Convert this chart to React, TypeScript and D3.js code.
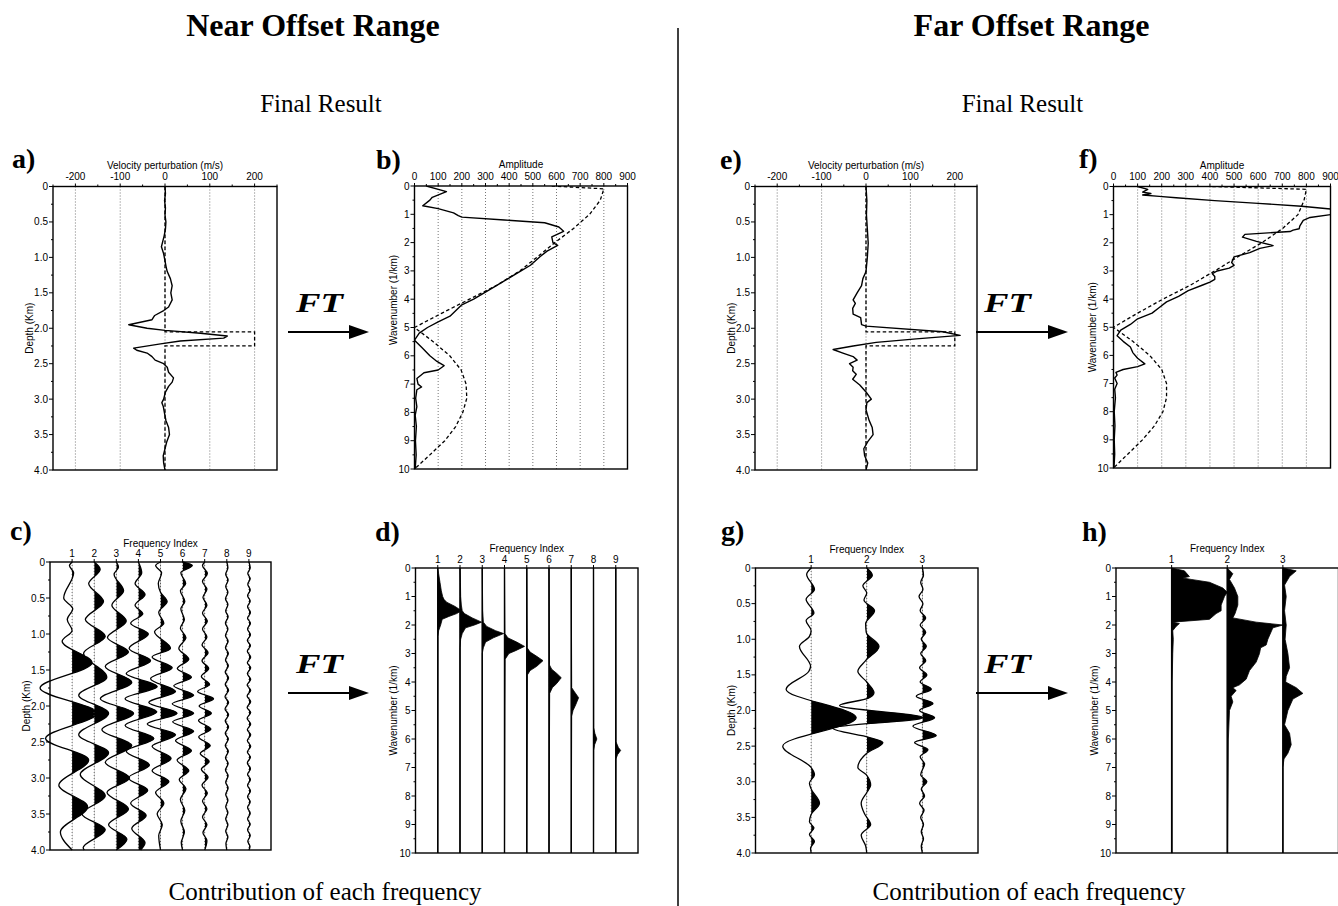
import React from "react";
import * as d3 from "d3";

type Pt = [number, number];
type Box = { x: number; y: number; w: number; h: number };

// ---------- tick values and labels ----------
const velocityTicks = [-200, -100, 0, 100, 200];
const velocityMinor = [-250, -150, -50, 50, 150, 250];
const amplitudeTicks = [0, 100, 200, 300, 400, 500, 600, 700, 800, 900];
const amplitudeMinor = [50, 150, 250, 350, 450, 550, 650, 750, 850];
const depthTicks = [0, 0.5, 1, 1.5, 2, 2.5, 3, 3.5, 4];
const depthTickLabels = ["0", "0.5", "1.0", "1.5", "2.0", "2.5", "3.0", "3.5", "4.0"];
const depthMinor = [0.25, 0.75, 1.25, 1.75, 2.25, 2.75, 3.25, 3.75];
const wavenumberTicks = [0, 1, 2, 3, 4, 5, 6, 7, 8, 9, 10];
const wavenumberMinor = [0.5, 1.5, 2.5, 3.5, 4.5, 5.5, 6.5, 7.5, 8.5, 9.5];
const nearIndex = [1, 2, 3, 4, 5, 6, 7, 8, 9];
const farIndex = [1, 2, 3];

// ---------- velocity profiles [depth km, perturbation m/s] ----------
const trueModel: Pt[] = [[0, 0], [2.05, 0], [2.05, 200], [2.25, 200], [2.25, 0], [4, 0]];

const nearInverted: Pt[] = [
  [0, 0], [0.1, 1], [0.2, -1], [0.3, 1], [0.4, 0], [0.5, 2], [0.6, 1], [0.7, -2], [0.75, -4],
  [0.85, -8], [0.95, -3], [1.05, 0], [1.15, 3], [1.2, 5], [1.3, 12], [1.4, 16], [1.5, 13],
  [1.6, 16], [1.7, 8], [1.75, -3], [1.82, -23], [1.88, -29], [1.95, -81], [2.0, -40], [2.03, 0],
  [2.07, 79], [2.11, 139], [2.14, 131], [2.18, 34], [2.22, -10], [2.28, -70], [2.31, -63],
  [2.35, -40], [2.4, -29], [2.45, -22], [2.5, -3], [2.55, 5], [2.62, 8], [2.7, 19], [2.76, 16],
  [2.82, 8], [2.9, 1], [3.0, -3], [3.05, -7], [3.1, -4], [3.2, -1], [3.3, 2], [3.4, 8], [3.5, 10],
  [3.6, 4], [3.7, 0], [3.8, -4], [3.9, -3], [4.0, 0],
];

const farInverted: Pt[] = [
  [0, 0], [0.2, 2], [0.4, 1], [0.6, 3], [0.8, 5], [1.0, 3], [1.2, 0], [1.3, -7], [1.4, -10],
  [1.5, -20], [1.6, -29], [1.65, -24], [1.72, -30], [1.8, -29], [1.85, -12], [1.95, -10],
  [1.97, 0], [2.05, 173], [2.1, 212], [2.15, 113], [2.2, 23], [2.25, -29], [2.3, -74],
  [2.35, -52], [2.4, -29], [2.45, -20], [2.5, -37], [2.55, -29], [2.6, -30], [2.65, -22],
  [2.72, -30], [2.8, -14], [2.9, 0], [3.0, 12], [3.05, 2], [3.15, 0], [3.3, 7], [3.4, 14],
  [3.5, 16], [3.6, 4], [3.7, -5], [3.8, -3], [3.9, 4], [4.0, 0],
];

// ---------- amplitude spectra [wavenumber 1/km, amplitude] ----------
const nearModelSpectrum: Pt[] = [
  [0, 580], [0.1, 800], [0.5, 785], [1.0, 740], [1.5, 672], [2.0, 593], [2.5, 520], [3.0, 445],
  [3.5, 350], [4.0, 232], [4.5, 114], [5.0, 0], [5.5, 79], [6.0, 149], [6.5, 197], [7.0, 218],
  [7.5, 221], [8.0, 204], [8.5, 174], [9.0, 128], [9.5, 65], [10, 0],
];

const nearSpectrum: Pt[] = [
  [0, 50], [0.2, 135], [0.4, 75], [0.5, 65], [0.7, 35], [0.8, 100], [0.95, 165], [1.05, 185],
  [1.1, 200], [1.2, 380], [1.3, 550], [1.45, 610], [1.6, 630], [1.8, 580], [2.0, 585],
  [2.1, 605], [2.3, 560], [2.5, 530], [2.8, 490], [3.0, 450], [3.3, 390], [3.6, 330], [4.0, 250],
  [4.2, 200], [4.4, 175], [4.6, 150], [4.8, 100], [5.0, 55], [5.2, 20], [5.45, 0], [5.7, 30],
  [6.0, 65], [6.2, 95], [6.35, 125], [6.5, 100], [6.6, 40], [6.8, 10], [7.0, 15], [7.1, 30],
  [7.2, 10], [7.5, 5], [7.8, 10], [8.1, 3], [8.5, 8], [9.0, 4], [9.5, 7], [10, 3],
];

const farModelSpectrum: Pt[] = [
  [0, 410], [0.1, 800], [0.5, 790], [1.0, 765], [1.5, 700], [2.0, 615], [2.5, 515], [3.0, 420],
  [3.5, 320], [4.0, 205], [4.5, 100], [5.0, 0], [5.5, 80], [6.0, 150], [6.5, 200], [7.0, 220],
  [7.5, 220], [8.0, 205], [8.5, 170], [9.0, 120], [9.5, 60], [10, 0],
];

const farSpectrum: Pt[] = [
  [0, 100], [0.1, 142], [0.2, 121], [0.25, 155], [0.3, 121], [0.35, 190], [0.4, 260], [0.5, 420],
  [0.6, 600], [0.7, 780], [0.8, 900], [0.9, 980], [1.0, 900], [1.1, 815], [1.2, 787], [1.4, 773],
  [1.5, 770], [1.55, 745], [1.6, 732], [1.7, 545], [1.8, 535], [1.95, 593], [2.1, 662],
  [2.2, 607], [2.35, 565], [2.5, 500], [2.7, 490], [2.8, 500], [2.9, 480], [3.0, 430], [3.1, 410],
  [3.2, 420], [3.3, 420], [3.4, 400], [3.5, 370], [3.7, 310], [3.9, 270], [4.1, 220], [4.3, 190],
  [4.5, 160], [4.7, 100], [4.9, 70], [5.1, 30], [5.3, 15], [5.5, 40], [5.7, 70], [5.9, 80],
  [6.1, 100], [6.3, 130], [6.4, 100], [6.5, 40], [6.6, 10], [6.7, 15], [6.8, 5], [7.0, 15],
  [7.2, 5], [7.5, 8], [8.0, 3], [8.5, 6], [9.0, 3], [9.5, 5], [10, 2],
];

// ---------- near offset: depth contribution of each frequency [depth km, trace amplitude] ----------
const nearWiggle1: Pt[] = [[0, 0], [0.05, -0.12], [0.15, 0.07], [0.5, -0.38], [0.65, 0.03], [0.8, -0.22], [0.95, 0], [1.1, -0.45], [1.4, 0.9], [1.75, -1.45], [2.1, 1.13], [2.45, -1.2], [2.75, 0.75], [3.1, -0.6], [3.4, 0.7], [3.75, -0.53], [4, 0]];
const nearWiggle2: Pt[] = [[0, 0], [0.1, 0.27], [0.3, -0.25], [0.55, 0.42], [0.8, -0.4], [1.03, 0.5], [1.27, -0.48], [1.6, 0.57], [1.85, -0.7], [2.1, 0.65], [2.4, -0.7], [2.65, 0.65], [2.95, -0.63], [3.25, 0.5], [3.5, -0.55], [3.72, 0.5], [3.97, -0.5], [4, -0.45]];
const nearWiggle3: Pt[] = [[0, 0], [0.07, 0.1], [0.17, -0.1], [0.4, 0.33], [0.6, -0.2], [0.82, 0.45], [1.05, -0.4], [1.25, 0.55], [1.45, -0.5], [1.67, 0.7], [1.9, -0.72], [2.1, 0.78], [2.33, -0.65], [2.55, 0.7], [2.78, -0.5], [3.0, 0.6], [3.2, -0.42], [3.43, 0.55], [3.65, -0.35], [3.85, 0.48], [4, 0]];
const nearWiggle4: Pt[] = [[0, 0], [0.15, 0.15], [0.3, -0.15], [0.45, 0.3], [0.6, -0.15], [0.72, 0.2], [0.85, -0.35], [1.0, 0.45], [1.2, -0.42], [1.37, 0.55], [1.55, -0.55], [1.73, 0.85], [1.9, -0.6], [2.08, 0.83], [2.27, -0.6], [2.45, 0.7], [2.63, -0.55], [2.82, 0.5], [3.0, -0.45], [3.17, 0.42], [3.35, -0.35], [3.52, 0.35], [3.7, -0.3], [3.9, 0.3], [4, 0.1]];
const nearWiggle5: Pt[] = [[0, 0], [0.05, -0.22], [0.15, 0.05], [0.3, -0.1], [0.42, 0.0], [0.55, 0.3], [0.7, -0.08], [0.85, 0.15], [0.97, -0.27], [1.2, 0.45], [1.32, -0.38], [1.47, 0.53], [1.62, -0.45], [1.8, 0.68], [1.95, -0.53], [2.1, 0.75], [2.25, -0.6], [2.4, 0.68], [2.56, -0.38], [2.73, 0.48], [2.9, -0.38], [3.05, 0.38], [3.2, -0.22], [3.35, 0.15], [3.5, -0.15], [3.65, 0.08], [3.8, -0.08], [4, 0]];
const nearWiggle6: Pt[] = [[0, 0], [0.05, 0.44], [0.15, -0.08], [0.3, 0.14], [0.4, -0.1], [0.55, 0.1], [0.65, -0.08], [0.8, 0.08], [0.92, -0.1], [1.05, 0.15], [1.2, -0.17], [1.35, 0.28], [1.48, -0.24], [1.6, 0.4], [1.72, -0.4], [1.85, 0.5], [1.97, -0.47], [2.1, 0.5], [2.22, -0.45], [2.35, 0.5], [2.48, -0.32], [2.62, 0.4], [2.75, -0.25], [2.9, 0.28], [3.02, -0.15], [3.15, 0.15], [3.3, -0.1], [3.45, 0.1], [3.6, -0.08], [3.75, 0.08], [3.9, -0.06], [4, 0]];
const nearWiggle7: Pt[] = [[0, 0], [0.05, -0.1], [0.16, 0.12], [0.27, -0.1], [0.38, 0.1], [0.49, -0.08], [0.6, 0.1], [0.71, -0.1], [0.82, 0.12], [0.93, -0.1], [1.04, 0.1], [1.15, -0.12], [1.26, 0.15], [1.37, -0.12], [1.48, 0.18], [1.59, -0.15], [1.7, 0.22], [1.8, -0.32], [1.9, 0.4], [2.0, -0.25], [2.1, 0.3], [2.2, -0.28], [2.32, 0.28], [2.43, -0.27], [2.55, 0.25], [2.66, -0.2], [2.77, 0.2], [2.88, -0.15], [2.99, 0.15], [3.1, -0.12], [3.21, 0.12], [3.32, -0.1], [3.43, 0.1], [3.54, -0.1], [3.65, 0.1], [3.76, -0.08], [3.87, 0.1], [4, 0]];
const nearWiggle8: Pt[] = [[0, 0], [0.08, 0.05], [0.17, -0.05], [0.25, 0.06], [0.34, -0.05], [0.42, 0.05], [0.51, -0.06], [0.59, 0.05], [0.68, -0.05], [0.76, 0.06], [0.85, -0.06], [0.93, 0.05], [1.02, -0.06], [1.1, 0.06], [1.19, -0.06], [1.27, 0.07], [1.36, -0.06], [1.44, 0.07], [1.53, -0.07], [1.61, 0.08], [1.7, -0.07], [1.78, 0.08], [1.87, -0.08], [1.95, 0.08], [2.04, -0.08], [2.12, 0.08], [2.21, -0.07], [2.29, 0.08], [2.38, -0.07], [2.46, 0.07], [2.55, -0.07], [2.63, 0.07], [2.72, -0.06], [2.8, 0.06], [2.89, -0.06], [2.97, 0.06], [3.06, -0.05], [3.14, 0.06], [3.23, -0.05], [3.31, 0.05], [3.4, -0.05], [3.48, 0.05], [3.57, -0.05], [3.65, 0.05], [3.74, -0.05], [3.82, 0.05], [3.91, -0.04], [4, 0]];
const nearWiggle9: Pt[] = [[0, 0], [0.08, 0.06], [0.16, -0.05], [0.23, 0.06], [0.31, -0.05], [0.39, 0.06], [0.47, -0.06], [0.54, 0.06], [0.62, -0.06], [0.7, 0.07], [0.78, -0.06], [0.85, 0.07], [0.93, -0.06], [1.01, 0.07], [1.09, -0.07], [1.16, 0.07], [1.24, -0.07], [1.32, 0.08], [1.4, -0.07], [1.47, 0.08], [1.55, -0.07], [1.63, 0.08], [1.71, -0.08], [1.78, 0.08], [1.86, -0.08], [1.94, 0.08], [2.02, -0.08], [2.09, 0.08], [2.17, -0.08], [2.25, 0.08], [2.33, -0.07], [2.4, 0.08], [2.48, -0.07], [2.56, 0.08], [2.64, -0.07], [2.71, 0.07], [2.79, -0.07], [2.87, 0.07], [2.95, -0.06], [3.02, 0.07], [3.1, -0.06], [3.18, 0.07], [3.26, -0.06], [3.33, 0.06], [3.41, -0.06], [3.49, 0.06], [3.57, -0.06], [3.64, 0.06], [3.72, -0.06], [3.8, 0.06], [3.88, -0.05], [3.95, 0.05], [4, 0]];

// ---------- near offset: spectrum of each frequency [wavenumber 1/km, trace amplitude] ----------
const nearSpec1: Pt[] = [[0, 0], [0.2, 0.04], [0.5, 0.1], [0.8, 0.16], [1.0, 0.22], [1.1, 0.28], [1.2, 0.4], [1.35, 0.78], [1.5, 1.07], [1.6, 0.85], [1.7, 0.5], [1.8, 0.2], [2.0, 0.13], [2.2, 0.04], [2.4, 0.01], [10, 0]];
const nearSpec2: Pt[] = [[0, 0], [0.5, 0.02], [1.0, 0.03], [1.3, 0.06], [1.5, 0.1], [1.6, 0.2], [1.75, 0.55], [1.9, 0.97], [2.0, 0.65], [2.1, 0.25], [2.3, 0.1], [2.5, 0.03], [2.8, 0], [10, 0]];
const nearSpec3: Pt[] = [[0, 0], [1.5, 0.02], [1.9, 0.05], [2.05, 0.2], [2.2, 0.6], [2.3, 0.96], [2.45, 0.5], [2.6, 0.15], [2.8, 0.05], [3.0, 0], [10, 0]];
const nearSpec4: Pt[] = [[0, 0], [2.3, 0.02], [2.45, 0.15], [2.6, 0.55], [2.75, 0.9], [2.9, 0.5], [3.0, 0.2], [3.2, 0.03], [10, 0]];
const nearSpec5: Pt[] = [[0, 0], [2.8, 0.02], [2.95, 0.15], [3.1, 0.45], [3.25, 0.73], [3.45, 0.45], [3.6, 0.15], [3.75, 0.03], [10, 0]];
const nearSpec6: Pt[] = [[0, 0], [3.4, 0.02], [3.55, 0.12], [3.7, 0.35], [3.85, 0.55], [4.05, 0.35], [4.2, 0.15], [4.4, 0.03], [10, 0]];
const nearSpec7: Pt[] = [[0, 0], [4.2, 0.02], [4.35, 0.15], [4.55, 0.33], [4.8, 0.2], [5.0, 0.08], [5.2, 0.02], [10, 0]];
const nearSpec8: Pt[] = [[0, 0], [5.6, 0.01], [5.8, 0.06], [6.0, 0.15], [6.2, 0.05], [6.4, 0.01], [10, 0]];
const nearSpec9: Pt[] = [[0, 0], [6.1, 0.01], [6.3, 0.12], [6.4, 0.22], [6.55, 0.08], [6.7, 0.01], [10, 0]];

// ---------- far offset: depth contribution of each frequency ----------
const farWiggle1: Pt[] = [[0, 0], [0.09, -0.08], [0.3, 0.06], [0.44, -0.09], [0.63, 0.05], [0.74, -0.09], [0.88, 0], [0.96, -0.03], [1.1, -0.21], [1.38, -0.01], [1.45, -0.04], [1.7, -0.45], [2.1, 0.81], [2.5, -0.51], [2.8, 0], [2.9, 0.06], [3.02, -0.03], [3.1, 0], [3.3, 0.15], [3.46, 0], [3.56, -0.03], [3.65, 0.05], [3.74, -0.03], [3.84, 0.06], [3.93, -0.01], [4, 0]];
const farWiggle2: Pt[] = [[0, 0], [0.1, 0.1], [0.25, -0.07], [0.35, 0], [0.45, -0.05], [0.6, 0.14], [0.78, -0.02], [0.9, -0.01], [1.1, 0.22], [1.3, -0.02], [1.45, -0.16], [1.6, 0], [1.75, 0.13], [1.83, 0.02], [1.93, -0.49], [2.1, 1.01], [2.25, -0.61], [2.38, 0.05], [2.45, 0.29], [2.6, 0], [2.8, -0.16], [2.9, -0.01], [3.05, 0.07], [3.15, 0], [3.3, -0.1], [3.45, -0.04], [3.6, 0.07], [3.75, -0.1], [3.9, -0.02], [4, 0]];
const farWiggle3: Pt[] = [[0, 0], [0.1, 0.02], [0.2, -0.03], [0.3, 0.01], [0.4, -0.06], [0.5, 0.01], [0.6, -0.04], [0.7, 0.06], [0.8, -0.04], [0.9, 0.06], [1.0, -0.02], [1.1, 0.07], [1.2, -0.03], [1.3, 0.06], [1.4, -0.05], [1.5, 0.08], [1.6, -0.04], [1.7, 0.16], [1.8, -0.11], [1.9, 0.19], [2.0, -0.05], [2.1, 0.22], [2.22, -0.17], [2.35, 0.25], [2.45, -0.14], [2.55, 0.1], [2.65, -0.04], [2.75, 0.04], [2.9, -0.03], [3.0, 0.08], [3.1, -0.02], [3.2, 0.04], [3.3, -0.05], [3.4, 0.03], [3.5, -0.03], [3.6, 0.02], [3.7, -0.02], [3.8, 0.02], [3.9, -0.02], [4, 0]];

// ---------- far offset: spectrum of each frequency ----------
const farSpec1: Pt[] = [[0, 0], [0.1, 0.23], [0.3, 0.32], [0.35, 0.2], [0.4, 0.35], [0.5, 0.68], [0.7, 0.92], [0.85, 1.0], [1.0, 0.95], [1.3, 0.89], [1.5, 0.89], [1.6, 0.8], [1.8, 0.68], [1.9, 0.02], [1.95, 0.14], [2.05, 0.08], [2.2, 0.02], [2.5, 0.03], [3, 0.02], [4, 0.01], [10, 0.01]];
const farSpec2: Pt[] = [[0, 0], [0.2, 0.1], [0.4, 0.04], [0.7, 0.13], [1.0, 0.19], [1.3, 0.19], [1.6, 0.14], [1.75, 0.1], [1.9, 0.52], [2.0, 1.0], [2.1, 0.82], [2.5, 0.73], [2.7, 0.7], [2.8, 0.6], [3.0, 0.58], [3.3, 0.52], [3.6, 0.4], [3.9, 0.34], [4.1, 0.22], [4.2, 0.1], [4.3, 0.16], [4.5, 0.07], [4.7, 0.1], [5.0, 0.04], [6, 0.02], [10, 0.01]];
const farSpec3: Pt[] = [[0, 0], [0.1, 0.24], [0.3, 0.12], [0.6, 0.03], [1.0, 0.06], [1.5, 0.03], [2.0, 0.06], [2.5, 0.04], [3.0, 0.09], [3.5, 0.12], [3.8, 0.06], [4.0, 0.05], [4.2, 0.24], [4.4, 0.36], [4.6, 0.18], [5.0, 0.09], [5.5, 0.03], [5.8, 0.12], [6.2, 0.15], [6.5, 0.09], [6.7, 0.02], [7, 0], [10, 0]];

const nearWiggles = [nearWiggle1, nearWiggle2, nearWiggle3, nearWiggle4, nearWiggle5, nearWiggle6, nearWiggle7, nearWiggle8, nearWiggle9];
const nearSpectra = [nearSpec1, nearSpec2, nearSpec3, nearSpec4, nearSpec5, nearSpec6, nearSpec7, nearSpec8, nearSpec9];
const farWiggles = [farWiggle1, farWiggle2, farWiggle3];
const farSpectra = [farSpec1, farSpec2, farSpec3];

// ---------- layout ----------
const W = 1338;
const H = 906;
const SANS = "'Liberation Sans', Arial, Helvetica, sans-serif";
const SERIF = "'Liberation Serif', 'Times New Roman', Times, serif";

const boxA: Box = { x: 53, y: 186.5, w: 224, h: 283.5 };
const boxB: Box = { x: 414.5, y: 186, w: 213, h: 283 };
const boxC: Box = { x: 50, y: 562, w: 221, h: 288 };
const boxD: Box = { x: 415.5, y: 568, w: 222.5, h: 285 };
const boxE: Box = { x: 755, y: 186.5, w: 222, h: 283.5 };
const boxF: Box = { x: 1113.5, y: 186.5, w: 217, h: 281.5 };
const boxG: Box = { x: 755.5, y: 568, w: 222.5, h: 285 };
const boxH: Box = { x: 1116, y: 568, w: 222.5, h: 285 };

type AxesProps = {
  box: Box;
  x: d3.ScaleLinear<number, number>;
  y: d3.ScaleLinear<number, number>;
  xTicks: number[];
  xLabels: string[];
  xMinor?: number[];
  yTicks: number[];
  yLabels: string[];
  yMinor?: number[];
  xTitle: string;
  yTitle: string;
  yTitleDx: number;
  yTitleY?: number;
  titleGap: number;
  tickGap: number;
};

function Axes(p: AxesProps) {
  const { box } = p;
  const ty = p.yTitleY ?? box.y + box.h / 2;
  const tx = box.x - p.yTitleDx;
  return (
    <g fontFamily={SANS} fontSize={10} fill="#000">
      <rect x={box.x} y={box.y} width={box.w} height={box.h} fill="none" stroke="#000" strokeWidth={1.4} />
      {p.xTicks.map((v, i) => (
        <g key={"xt" + i}>
          <line x1={p.x(v)} x2={p.x(v)} y1={box.y} y2={box.y - 3} stroke="#000" strokeWidth={1} />
          <text x={p.x(v)} y={box.y - p.tickGap} textAnchor="middle">{p.xLabels[i]}</text>
        </g>
      ))}
      {(p.xMinor ?? []).map((v, i) => (
        <line key={"xm" + i} x1={p.x(v)} x2={p.x(v)} y1={box.y} y2={box.y - 2} stroke="#000" strokeWidth={1} />
      ))}
      {p.yTicks.map((v, i) => (
        <g key={"yt" + i}>
          <line x1={box.x} x2={box.x - 4} y1={p.y(v)} y2={p.y(v)} stroke="#000" strokeWidth={1} />
          <text x={box.x - 5} y={p.y(v) + 3.5} textAnchor="end">{p.yLabels[i]}</text>
        </g>
      ))}
      {(p.yMinor ?? []).map((v, i) => (
        <line key={"ym" + i} x1={box.x} x2={box.x - 2} y1={p.y(v)} y2={p.y(v)} stroke="#000" strokeWidth={1} />
      ))}
      <text x={box.x + box.w / 2} y={box.y - p.titleGap} textAnchor="middle">{p.xTitle}</text>
      <text transform={`translate(${tx},${ty}) rotate(-90)`} textAnchor="middle" dy="0.35em">{p.yTitle}</text>
    </g>
  );
}

function PanelLabel({ x, y, text }: { x: number; y: number; text: string }) {
  return (
    <text x={x} y={y} fontFamily={SERIF} fontWeight="bold" fontSize={28}>{text}</text>
  );
}

function ProfilePanel({ box, inverted, id }: { box: Box; inverted: Pt[]; id: string }) {
  const x = d3.scaleLinear().domain([-250, 250]).range([box.x, box.x + box.w]);
  const y = d3.scaleLinear().domain([0, 4]).range([box.y, box.y + box.h]);
  const line = d3.line<Pt>().x((d) => x(d[1])).y((d) => y(d[0]));
  return (
    <g>
      <clipPath id={id}><rect x={box.x} y={box.y} width={box.w} height={box.h} /></clipPath>
      {velocityTicks.map((v) => (
        <line key={v} x1={x(v)} x2={x(v)} y1={box.y} y2={box.y + box.h} stroke="#666" strokeWidth={0.9} strokeDasharray="1 2" />
      ))}
      <g clipPath={`url(#${id})`}>
        <path d={line(trueModel) ?? ""} fill="none" stroke="#000" strokeWidth={1.3} strokeDasharray="3.5 2.5" />
        <path d={line(inverted) ?? ""} fill="none" stroke="#000" strokeWidth={1.4} strokeLinejoin="round" />
      </g>
      <Axes box={box} x={x} y={y} xTicks={velocityTicks} xLabels={velocityTicks.map(String)} xMinor={velocityMinor}
        yTicks={depthTicks} yLabels={depthTickLabels} yMinor={depthMinor}
        xTitle="Velocity perturbation (m/s)" yTitle="Depth (Km)" yTitleDx={24} titleGap={18} tickGap={6.5} />
    </g>
  );
}

function SpectrumPanel({ box, model, spectrum, id, yTitleY }: { box: Box; model: Pt[]; spectrum: Pt[]; id: string; yTitleY?: number }) {
  const x = d3.scaleLinear().domain([0, 900]).range([box.x, box.x + box.w]);
  const y = d3.scaleLinear().domain([0, 10]).range([box.y, box.y + box.h]);
  const line = d3.line<Pt>().x((d) => x(d[1])).y((d) => y(d[0]));
  return (
    <g>
      <clipPath id={id}><rect x={box.x} y={box.y} width={box.w} height={box.h} /></clipPath>
      {amplitudeTicks.slice(1, -1).map((v) => (
        <line key={v} x1={x(v)} x2={x(v)} y1={box.y} y2={box.y + box.h} stroke="#666" strokeWidth={0.9} strokeDasharray="1 2" />
      ))}
      <g clipPath={`url(#${id})`}>
        <path d={line(model) ?? ""} fill="none" stroke="#000" strokeWidth={1.3} strokeDasharray="3.5 2.5" />
        <path d={line(spectrum) ?? ""} fill="none" stroke="#000" strokeWidth={1.4} strokeLinejoin="round" />
      </g>
      <Axes box={box} x={x} y={y} xTicks={amplitudeTicks} xLabels={amplitudeTicks.map(String)} xMinor={amplitudeMinor}
        yTicks={wavenumberTicks} yLabels={wavenumberTicks.map(String)} yMinor={wavenumberMinor}
        xTitle="Amplitude" yTitle="Wavenumber (1/km)" yTitleDx={21} yTitleY={yTitleY} titleGap={18} tickGap={6.5} />
    </g>
  );
}

function WigglePanel({ box, traces, index, id }: { box: Box; traces: Pt[][]; index: number[]; id: string }) {
  const x = d3.scaleLinear().domain([0, index.length + 1]).range([box.x, box.x + box.w]);
  const y = d3.scaleLinear().domain([0, 4]).range([box.y, box.y + box.h]);
  return (
    <g>
      {index.map((n, i) => {
        const base = x(n);
        const tr = traces[i];
        const line = d3.line<Pt>().x((d) => x(n + d[1])).y((d) => y(d[0])).curve(d3.curveMonotoneY);
        const area = d3.area<Pt>().y((d) => y(d[0])).x0(base).x1((d) => x(n + d[1])).curve(d3.curveMonotoneY);
        const cid = `${id}-pos-${n}`;
        return (
          <g key={n}>
            <line x1={base} x2={base} y1={box.y} y2={box.y + box.h} stroke="#666" strokeWidth={0.9} strokeDasharray="1 2" />
            <clipPath id={cid}><rect x={base} y={box.y - 2} width={120} height={box.h + 4} /></clipPath>
            <path d={area(tr) ?? ""} fill="#000" clipPath={`url(#${cid})`} />
            <path d={line(tr) ?? ""} fill="none" stroke="#000" strokeWidth={1.3} />
          </g>
        );
      })}
      <Axes box={box} x={x} y={y} xTicks={index} xLabels={index.map(String)}
        yTicks={depthTicks} yLabels={depthTickLabels} yMinor={depthMinor}
        xTitle="Frequency Index" yTitle="Depth (Km)" yTitleDx={24} titleGap={15} tickGap={5} />
    </g>
  );
}

function TracePanel({ box, traces, index }: { box: Box; traces: Pt[][]; index: number[] }) {
  const x = d3.scaleLinear().domain([0, index.length + 1]).range([box.x, box.x + box.w]);
  const y = d3.scaleLinear().domain([0, 10]).range([box.y, box.y + box.h]);
  return (
    <g>
      {index.map((n, i) => {
        const base = x(n);
        const tr = traces[i];
        const area = d3.area<Pt>().y((d) => y(d[0])).x0(base).x1((d) => x(n + d[1]));
        return (
          <g key={n}>
            <path d={area(tr) ?? ""} fill="#000" stroke="#000" strokeWidth={0.8} strokeLinejoin="round" />
            <line x1={base} x2={base} y1={box.y} y2={box.y + box.h} stroke="#000" strokeWidth={1.4} />
          </g>
        );
      })}
      <Axes box={box} x={x} y={y} xTicks={index} xLabels={index.map(String)}
        yTicks={wavenumberTicks} yLabels={wavenumberTicks.map(String)} yMinor={wavenumberMinor}
        xTitle="Frequency Index" yTitle="Wavenumber (1/km)" yTitleDx={22} titleGap={16} tickGap={5} />
    </g>
  );
}

function FTArrow({ x, y, len }: { x: number; y: number; len: number }) {
  // x: arrow tail, y: arrow shaft, len: tail-to-tip length
  const tip = x + len;
  return (
    <g>
      <text x={x + 8} y={y - 20} fontFamily={SERIF} fontWeight="bold" fontStyle="italic" fontSize={27}
        textLength={47} lengthAdjust="spacingAndGlyphs">FT</text>
      <line x1={x} x2={tip - 16} y1={y} y2={y} stroke="#000" strokeWidth={2} />
      <path d={`M${tip - 20},${y - 7} L${tip},${y} L${tip - 20},${y + 7} Z`} fill="#000" />
    </g>
  );
}

export default function App() {
  return (
    <svg width={W} height={H} viewBox={`0 0 ${W} ${H}`}
      style={{ position: "fixed", left: 0, top: 0, background: "#fff" }}>
      <rect x={0} y={0} width={W} height={H} fill="#fff" />

      {/* headings */}
      <g fontFamily={SERIF} fill="#000">
        <text x={313} y={36} textAnchor="middle" fontWeight="bold" fontSize={32}>Near Offset Range</text>
        <text x={1031.5} y={36} textAnchor="middle" fontWeight="bold" fontSize={32}>Far Offset Range</text>
        <text x={321} y={112} textAnchor="middle" fontSize={25}>Final Result</text>
        <text x={1022.5} y={112} textAnchor="middle" fontSize={25}>Final Result</text>
        <text x={325} y={900} textAnchor="middle" fontSize={25}>Contribution of each frequency</text>
        <text x={1029} y={900} textAnchor="middle" fontSize={25}>Contribution of each frequency</text>
      </g>
      <line x1={678} x2={678} y1={28} y2={906} stroke="#000" strokeWidth={1.5} />

      {/* near offset */}
      <PanelLabel x={12} y={168} text="a)" />
      <ProfilePanel box={boxA} inverted={nearInverted} id="clipA" />
      <PanelLabel x={376} y={169} text="b)" />
      <SpectrumPanel box={boxB} model={nearModelSpectrum} spectrum={nearSpectrum} id="clipB" yTitleY={300} />
      <PanelLabel x={10} y={540} text="c)" />
      <WigglePanel box={boxC} traces={nearWiggles} index={nearIndex} id="wigC" />
      <PanelLabel x={375} y={541} text="d)" />
      <TracePanel box={boxD} traces={nearSpectra} index={nearIndex} />
      <FTArrow x={288} y={332} len={81} />
      <FTArrow x={288} y={693} len={81} />

      {/* far offset */}
      <PanelLabel x={720} y={169} text="e)" />
      <ProfilePanel box={boxE} inverted={farInverted} id="clipE" />
      <PanelLabel x={1079} y={168} text="f)" />
      <SpectrumPanel box={boxF} model={farModelSpectrum} spectrum={farSpectrum} id="clipF" />
      <PanelLabel x={721} y={540} text="g)" />
      <WigglePanel box={boxG} traces={farWiggles} index={farIndex} id="wigG" />
      <PanelLabel x={1082} y={541} text="h)" />
      <TracePanel box={boxH} traces={farSpectra} index={farIndex} />
      <FTArrow x={976} y={332} len={92} />
      <FTArrow x={976} y={693} len={92} />
    </svg>
  );
}
